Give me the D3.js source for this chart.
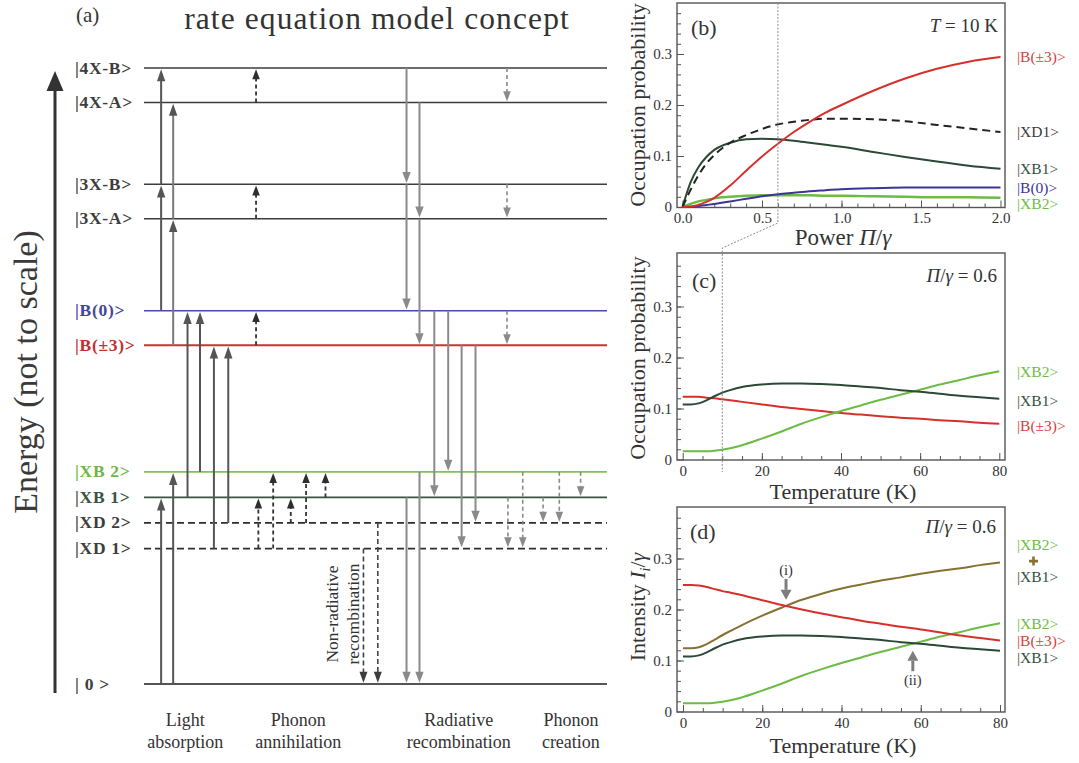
<!DOCTYPE html>
<html>
<head>
<meta charset="utf-8">
<title>Rate equation model concept</title>
<script src="https://cdn.jsdelivr.net/npm/d3@7"></script>
<style>
  html, body { margin: 0; padding: 0; background: #fff; }
  svg { display: block; }
  text { font-family: "Liberation Serif", "Times New Roman", serif; }
</style>
</head>
<body>
<svg id="fig" width="1079" height="763"></svg>
<script>
// ===== Energy-level scheme (schematic energies, not to scale) =====
const levelKeys   = ["0", "XD1", "XD2", "XB1", "XB2", "B3", "B0", "3XA", "3XB", "4XA", "4XB"];
const levelNames  = ["| 0 >", "|XD 1>", "|XD 2>", "|XB 1>", "|XB 2>", "|B(±3)>", "|B(0)>", "|3X-A>", "|3X-B>", "|4X-A>", "|4X-B>"];
const levelEnergy = [0, 5.3, 6.3, 7.3, 8.3, 13.25, 14.6, 18.2, 19.55, 22.75, 24.1];

// transitions: [from, to, lane]  (lane = horizontal slot, 0..100 across the diagram)
const lightAbsorption = [
  ["0", "XB1", 3.7], ["0", "XB2", 6.3],
  ["B0", "3XB", 3.7], ["3XB", "4XB", 3.7],
  ["B3", "3XA", 6.3], ["3XA", "4XA", 6.3],
  ["XB1", "B0", 9.4], ["XB2", "B0", 12.1],
  ["XD1", "B3", 15.1], ["XD2", "B3", 18.2]
];
const phononAnnihilation = [
  ["4XA", "4XB", 24.2], ["3XA", "3XB", 24.2], ["B3", "B0", 24.2],
  ["XD1", "XB1", 24.7], ["XD1", "XB2", 27.9],
  ["XD2", "XB1", 31.7], ["XD2", "XB2", 35.0], ["XB1", "XB2", 39.2]
];
const nonRadiative = [["XD1", "0", 47.4], ["XD2", "0", 50.5]];
const radiative = [
  ["4XB", "3XB", 56.7], ["3XB", "B0", 56.7],
  ["4XA", "3XA", 59.5], ["3XA", "B3", 59.5],
  ["B0", "XB1", 62.7], ["B0", "XB2", 65.7],
  ["B3", "XD1", 68.6], ["B3", "XD2", 71.6],
  ["XB1", "0", 56.7], ["XB2", "0", 59.5]
];
const phononCreation = [
  ["4XB", "4XA", 78.4], ["3XB", "3XA", 78.4], ["B0", "B3", 78.4],
  ["XB1", "XD1", 78.6], ["XB2", "XD1", 81.8],
  ["XB1", "XD2", 86.2], ["XB2", "XD2", 89.7], ["XB2", "XB1", 94.3]
];
const processNames = [["Light", "absorption"], ["Phonon", "annihilation"], ["Radiative", "recombination"], ["Phonon", "creation"]];
const processLanes = [8.9, 33.3, 68.0, 92.2];

// ===== (b) occupation probability vs. power, T = 10 K =====
const power   = [0, 0.05, 0.1, 0.15, 0.2, 0.3, 0.4, 0.5, 0.6, 0.7, 0.8, 0.9, 1.0, 1.2, 1.4, 1.6, 1.8, 2.0];
const pB3     = [0, 0.001, 0.004, 0.010, 0.018, 0.042, 0.071, 0.099, 0.124, 0.147, 0.167, 0.185, 0.200, 0.228, 0.252, 0.271, 0.285, 0.294];
const pXD1    = [0, 0.033, 0.062, 0.085, 0.102, 0.126, 0.141, 0.153, 0.162, 0.167, 0.171, 0.173, 0.173, 0.172, 0.168, 0.161, 0.154, 0.147];
const pXB1    = [0, 0.048, 0.078, 0.098, 0.112, 0.126, 0.133, 0.134, 0.133, 0.130, 0.126, 0.122, 0.118, 0.108, 0.098, 0.089, 0.081, 0.075];
const pB0     = [0, 0.0005, 0.002, 0.004, 0.006, 0.011, 0.016, 0.021, 0.025, 0.028, 0.031, 0.033, 0.035, 0.037, 0.038, 0.038, 0.038, 0.038];
const pXB2    = [0, 0.006, 0.011, 0.014, 0.017, 0.020, 0.022, 0.023, 0.023, 0.023, 0.023, 0.022, 0.022, 0.021, 0.020, 0.019, 0.019, 0.018];

// ===== (c), (d) vs. temperature, Π/γ = 0.6 =====
const temperature = [0, 2, 4, 6, 8, 10, 12, 15, 20, 25, 30, 35, 40, 45, 50, 55, 60, 65, 70, 75, 80];
const tXB1   = [0.108, 0.108, 0.110, 0.116, 0.124, 0.131, 0.136, 0.142, 0.147, 0.149, 0.149, 0.148, 0.146, 0.143, 0.140, 0.136, 0.133, 0.129, 0.125, 0.122, 0.119];
const tXB2   = [0.016, 0.016, 0.016, 0.016, 0.017, 0.019, 0.022, 0.028, 0.041, 0.055, 0.070, 0.083, 0.095, 0.106, 0.117, 0.127, 0.137, 0.147, 0.156, 0.165, 0.173];
const tB3    = [0.123, 0.123, 0.123, 0.121, 0.120, 0.118, 0.116, 0.113, 0.108, 0.103, 0.099, 0.095, 0.091, 0.088, 0.085, 0.082, 0.080, 0.077, 0.075, 0.072, 0.070];
const iB3    = [0.248, 0.248, 0.247, 0.244, 0.240, 0.236, 0.233, 0.228, 0.218, 0.209, 0.200, 0.192, 0.185, 0.178, 0.172, 0.166, 0.161, 0.155, 0.149, 0.144, 0.139];
const iSum   = [0.124, 0.124, 0.126, 0.132, 0.141, 0.150, 0.158, 0.170, 0.188, 0.204, 0.219, 0.231, 0.241, 0.249, 0.257, 0.263, 0.270, 0.276, 0.281, 0.287, 0.292];

const occTicks = [0, 0.1, 0.2, 0.3];
const occTickLabels = ["0", "0.1", "0.2", "0.3"];
const powerTicks = [0, 0.5, 1.0, 1.5, 2.0];
const powerTickLabels = ["0.0", "0.5", "1.0", "1.5", "2.0"];
const tempTicks = [0, 20, 40, 60, 80];
const tempTickLabels = ["0", "20", "40", "60", "80"];

// crossing markers in (d): [label, temperature, tail value, tip value, label value]
const crossings = [["(i)", 26, 0.26, 0.219, 0.267], ["(ii)", 58, 0.079, 0.119, 0.051]];

// ---------------------------------------------------------------
const svg = d3.select("#fig");
const C = {
  red: "#d6302c", dkgreen: "#2c4836", green: "#6cbb45", blue: "#3a3596",
  olive: "#857233", black: "#222", ink: "#333"
};

// ===================== (a) level scheme =====================
const ga = svg.append("g");
const yE = d3.scaleLinear().domain([0, 24.1]).range([684, 68]);
const xLane = d3.scaleLinear().domain([0, 100]).range([144, 607]);
const lvlY = k => yE(levelEnergy[levelKeys.indexOf(k)]);

ga.append("text").attr("x", 76).attr("y", 22).attr("font-size", 21).attr("fill", C.ink).text("(a)");
ga.append("text").attr("x", 377).attr("y", 29).attr("text-anchor", "middle")
  .attr("font-size", 31.5).attr("letter-spacing", 1.1).attr("fill", C.ink).text("rate equation model concept");

// energy axis
ga.append("line").attr("x1", 55).attr("x2", 55).attr("y1", 693).attr("y2", 88)
  .attr("stroke", "#333").attr("stroke-width", 3);
ga.append("path").attr("d", "M55,71L46.5,91L63.5,91Z").attr("fill", "#333");
ga.append("text").attr("transform", "translate(37,372) rotate(-90)").attr("text-anchor", "middle")
  .attr("font-size", 34).attr("fill", "#3a3a3a").text("Energy (not to scale)");

const levelStyle = {
  "0":  { stroke: "#555", w: 2, text: "#3d3d3d" },
  XD1:  { stroke: "#2e2e2e", w: 1.8, dash: "7,4", text: "#3d3d3d" },
  XD2:  { stroke: "#2e2e2e", w: 1.8, dash: "7,4", text: "#3d3d3d" },
  XB1:  { stroke: "#3a5442", w: 1.8, text: "#3a5442" },
  XB2:  { stroke: "#7cc35a", w: 1.8, text: "#6cb748" },
  B3:   { stroke: "#c83434", w: 2, text: "#c23030" },
  B0:   { stroke: "#4a4aa6", w: 1.6, text: "#45459e" },
  "3XA": { stroke: "#3d3d3d", w: 1.4, text: "#3d3d3d" },
  "3XB": { stroke: "#3d3d3d", w: 1.4, text: "#3d3d3d" },
  "4XA": { stroke: "#3d3d3d", w: 1.4, text: "#3d3d3d" },
  "4XB": { stroke: "#3d3d3d", w: 1.4, text: "#3d3d3d" }
};

levelKeys.forEach((k, i) => {
  const st = levelStyle[k], y = lvlY(k);
  ga.append("line").attr("x1", xLane(0)).attr("x2", xLane(100)).attr("y1", y).attr("y2", y)
    .attr("stroke", st.stroke).attr("stroke-width", st.w).attr("stroke-dasharray", st.dash || null);
  ga.append("text").attr("x", 75).attr("y", y + 5.5).attr("font-size", 17.5).attr("font-weight", "bold")
    .attr("letter-spacing", 0.7).attr("fill", st.text).text(levelNames[i]);
});

function drawArrow(g, t, st) {
  const [from, to, lane] = t;
  const x = xLane(lane), y0 = lvlY(from), yT = lvlY(to);
  const dir = yT < y0 ? -1 : 1;
  const tip = yT - dir * 1.2;
  const base = tip - dir * st.len;
  g.append("line").attr("x1", x).attr("x2", x).attr("y1", y0).attr("y2", base + dir * 0.5)
    .attr("stroke", st.line(t)).attr("stroke-width", st.w).attr("stroke-dasharray", st.dash || null);
  g.append("path").attr("d", `M${x},${tip}L${x - st.hw},${base}L${x + st.hw},${base}Z`).attr("fill", st.head);
}

const gArr = ga.append("g");
lightAbsorption.forEach(t => drawArrow(gArr, t, {
  line: d => (d[0] === "B3" || d[0] === "3XA") ? "#7a7a7a" : "#555", w: 2, len: 12, hw: 4.2, head: "#555"
}));
phononAnnihilation.forEach(t => drawArrow(gArr, t, {
  line: () => "#333", w: 1.8, dash: "4,3", len: 10, hw: 3.8, head: "#2e2e2e"
}));
nonRadiative.forEach(t => drawArrow(gArr, t, {
  line: () => "#444", w: 1.6, dash: "5,3", len: 11, hw: 4, head: "#3d3d3d"
}));
radiative.forEach(t => drawArrow(gArr, t, {
  line: () => "#8a8a8a", w: 2, len: 11, hw: 4.2, head: "#8a8a8a"
}));
phononCreation.forEach(t => drawArrow(gArr, t, {
  line: () => "#8a8a8a", w: 1.6, dash: "4,3", len: 10, hw: 3.8, head: "#8a8a8a"
}));

// process captions
processNames.forEach((p, i) => {
  const t = ga.append("text").attr("text-anchor", "middle").attr("font-size", 18).attr("fill", C.ink);
  t.append("tspan").attr("x", xLane(processLanes[i])).attr("y", 726).text(p[0]);
  t.append("tspan").attr("x", xLane(processLanes[i])).attr("y", 748).text(p[1]);
});
const nr = ga.append("text").attr("text-anchor", "middle").attr("font-size", 17.5).attr("fill", C.ink)
  .attr("transform", `translate(${xLane(41.9)},614) rotate(-90)`);
nr.append("tspan").attr("x", 0).attr("y", 0).text("Non-radiative");
nr.append("tspan").attr("x", 0).attr("y", 21).text("recombination");

// ===================== (b)-(d) framed plots =====================
function framedPlot(cfg) {
  const g = svg.append("g");
  const x = d3.scaleLinear().domain(cfg.xDomain).range(cfg.xRange);
  const y = d3.scaleLinear().domain([0, 0.4]).range(cfg.yRange);
  const L = 677, R = 1005;

  const style = sel => {
    sel.select(".domain").remove();
    sel.selectAll(".tick line").attr("stroke", "#555").attr("stroke-width", 1);
    sel.selectAll(".tick text").attr("font-size", 15).attr("fill", C.ink);
  };
  g.append("g").attr("transform", `translate(0,${cfg.bottom})`)
    .call(d3.axisBottom(x).tickValues(cfg.xMinor).tickSize(-4).tickFormat("")).call(style);
  g.append("g").attr("transform", `translate(0,${cfg.bottom})`)
    .call(d3.axisBottom(x).tickValues(cfg.xTicks).tickSize(-7).tickPadding(5)
      .tickFormat(d => cfg.xLabels[cfg.xTicks.indexOf(d)])).call(style);
  g.append("g").attr("transform", `translate(${L},0)`)
    .call(d3.axisLeft(y).tickValues(d3.range(0.02, 0.4, 0.02)).tickSize(-4).tickFormat("")).call(style);
  g.append("g").attr("transform", `translate(${L},0)`)
    .call(d3.axisLeft(y).tickValues(occTicks).tickSize(-7).tickPadding(5)
      .tickFormat(d => occTickLabels[occTicks.indexOf(d)])).call(style);

  g.append("rect").attr("x", L).attr("y", cfg.top).attr("width", R - L).attr("height", cfg.bottom - cfg.top)
    .attr("fill", "none").attr("stroke", "#555").attr("stroke-width", 1.4);

  const line = d3.line().curve(d3.curveMonotoneX);
  cfg.series.forEach(s => {
    g.append("path").attr("d", line(cfg.xs.map((v, i) => [x(v), y(s.values[i])])))
      .attr("fill", "none").attr("stroke", s.color).attr("stroke-width", s.width || 2)
      .attr("stroke-dasharray", s.dash || null);
    if (s.label) {
      g.append("text").attr("x", 1017).attr("y", y(s.values[s.values.length - 1]) + (s.nudge || 0))
        .attr("dy", "0.35em").attr("font-size", 15.5).attr("fill", s.labelColor || s.color).text(s.label);
    }
  });
  return { g, x, y };
}

// (b)
const pb = framedPlot({
  top: 3, bottom: 207.5, xDomain: [0, 2], xRange: [682.5, 1000.5], yRange: [207, 3],
  xTicks: powerTicks, xLabels: powerTickLabels, xMinor: d3.range(0.1, 2.0, 0.1),
  xs: power,
  series: [
    { values: pXB2, color: C.green, width: 2.4, label: "|XB2>", nudge: 6 },
    { values: pB0, color: C.blue, label: "|B(0)>" },
    { values: pXB1, color: C.dkgreen, label: "|XB1>", labelColor: "#33503d" },
    { values: pXD1, color: C.black, dash: "8,5", label: "|XD1>", labelColor: "#3a3a3a" },
    { values: pB3, color: C.red, label: "|B(±3)>", labelColor: "#d4403c" }
  ]
});
pb.g.append("text").attr("x", 691).attr("y", 35).attr("font-size", 22).attr("fill", C.ink).text("(b)");
const tb = pb.g.append("text").attr("x", 998).attr("y", 32).attr("text-anchor", "end").attr("font-size", 19).attr("fill", C.ink);
tb.append("tspan").attr("font-style", "italic").text("T");
tb.append("tspan").text(" = 10 K");
const xb = pb.g.append("text").attr("x", 843).attr("y", 245).attr("text-anchor", "middle").attr("font-size", 23).attr("fill", C.ink);
xb.append("tspan").text("Power ");
xb.append("tspan").attr("font-style", "italic").text("Π");
xb.append("tspan").text("/");
xb.append("tspan").attr("font-style", "italic").text("γ");
pb.g.append("text").attr("transform", "translate(645,105) rotate(-90)").attr("text-anchor", "middle")
  .attr("font-size", 22).attr("fill", C.ink).text("Occupation probability");

// (c)
const pc = framedPlot({
  top: 253, bottom: 460, xDomain: [0, 80], xRange: [682.7, 999.3], yRange: [459.5, 255.5],
  xTicks: tempTicks, xLabels: tempTickLabels, xMinor: d3.range(5, 80, 5),
  xs: temperature,
  series: [
    { values: tB3, color: C.red, label: "|B(±3)>", labelColor: "#d4403c", nudge: 2 },
    { values: tXB2, color: C.green, label: "|XB2>" },
    { values: tXB1, color: C.dkgreen, label: "|XB1>", labelColor: "#33503d", nudge: 2 }
  ]
});
pc.g.append("text").attr("x", 692).attr("y", 288).attr("font-size", 22).attr("fill", C.ink).text("(c)");

function powerLabel(g, xr, yb) {
  const t = g.append("text").attr("x", xr).attr("y", yb).attr("text-anchor", "end").attr("font-size", 19).attr("fill", C.ink);
  t.append("tspan").attr("font-style", "italic").text("Π");
  t.append("tspan").text("/");
  t.append("tspan").attr("font-style", "italic").text("γ");
  t.append("tspan").text(" = 0.6");
}
powerLabel(pc.g, 997, 282);
pc.g.append("text").attr("x", 843).attr("y", 499).attr("text-anchor", "middle").attr("font-size", 22).attr("fill", C.ink).text("Temperature (K)");
pc.g.append("text").attr("transform", "translate(645,358) rotate(-90)").attr("text-anchor", "middle")
  .attr("font-size", 22).attr("fill", C.ink).text("Occupation probability");

// connector: Π/γ = 0.6 in (b) leads to T = 10 K in (c)
svg.append("path")
  .attr("d", `M${pb.x(0.6)},3V223L${pc.x(10)},248V472`)
  .attr("fill", "none").attr("stroke", "#8c8c8c").attr("stroke-width", 1).attr("stroke-dasharray", "2,1.5");

// (d)
const pd = framedPlot({
  top: 507, bottom: 712, xDomain: [0, 80], xRange: [683, 1000], yRange: [711.5, 507.5],
  xTicks: tempTicks, xLabels: tempTickLabels, xMinor: d3.range(5, 80, 5),
  xs: temperature,
  series: [
    { values: tXB2, color: C.green, label: "|XB2>" },
    { values: tXB1, color: C.dkgreen, label: "|XB1>", labelColor: "#33503d", nudge: 7 },
    { values: iSum, color: C.olive },
    { values: iB3, color: C.red, label: "|B(±3)>", labelColor: "#d4403c" }
  ]
});
pd.g.append("text").attr("x", 690).attr("y", 539).attr("font-size", 22).attr("fill", C.ink).text("(d)");
powerLabel(pd.g, 996, 533);
pd.g.append("text").attr("x", 843).attr("y", 753).attr("text-anchor", "middle").attr("font-size", 22).attr("fill", C.ink).text("Temperature (K)");
const yd = pd.g.append("text").attr("transform", "translate(645,607) rotate(-90)").attr("text-anchor", "middle")
  .attr("font-size", 22).attr("fill", C.ink);
yd.append("tspan").text("Intensity ");
yd.append("tspan").attr("font-style", "italic").text("I");
yd.append("tspan").attr("font-style", "italic").attr("font-size", 14).attr("dy", 5).text("i");
yd.append("tspan").attr("dy", -5).text("/");
yd.append("tspan").attr("font-style", "italic").text("γ");

// sum label group
const ySumEnd = pd.y(iSum[iSum.length - 1]);
pd.g.append("text").attr("x", 1017).attr("y", ySumEnd - 18).attr("dy", "0.35em").attr("font-size", 15.5).attr("fill", C.green).text("|XB2>");
pd.g.append("path").attr("d", `M1029,${ySumEnd - 1.5}H1038M1033.5,${ySumEnd - 6}V${ySumEnd + 3}`)
  .attr("stroke", C.olive).attr("stroke-width", 2.6);
pd.g.append("text").attr("x", 1017).attr("y", ySumEnd + 14).attr("dy", "0.35em").attr("font-size", 15.5).attr("fill", "#33503d").text("|XB1>");

// crossing markers
crossings.forEach(([lab, T, tail, tip, ly]) => {
  const x = pd.x(T), y0 = pd.y(tail), y1 = pd.y(tip);
  const dir = y1 > y0 ? 1 : -1;
  const base = y1 - dir * 10;
  pd.g.append("line").attr("x1", x).attr("x2", x).attr("y1", y0).attr("y2", base)
    .attr("stroke", "#7d7d7d").attr("stroke-width", 3);
  pd.g.append("path").attr("d", `M${x},${y1}L${x - 5.5},${base}L${x + 5.5},${base}Z`).attr("fill", "#7d7d7d");
  pd.g.append("text").attr("x", x).attr("y", pd.y(ly)).attr("text-anchor", "middle")
    .attr("font-size", 14.5).attr("fill", C.ink).text(lab);
});
</script>
</body>
</html>
